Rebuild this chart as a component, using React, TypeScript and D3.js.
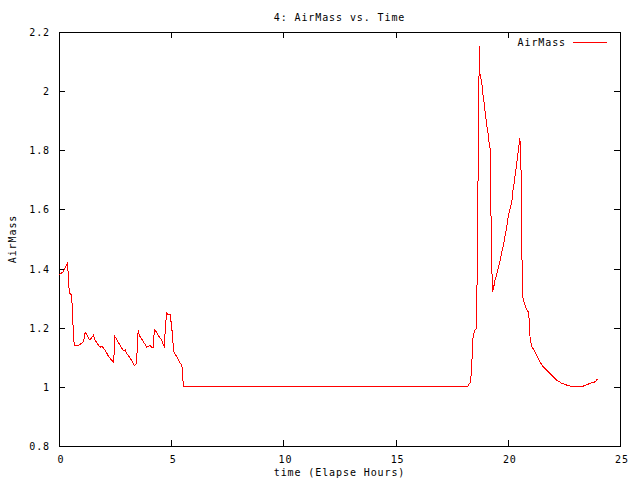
import React from "react";
import * as d3 from "d3";

const times: number[] = [
  0.0, 0.19, 0.34, 0.38, 0.44, 0.47, 0.56, 0.59, 0.64, 0.68, 0.86, 1.01, 1.09, 1.16, 1.19, 1.31, 1.38, 1.53, 1.61, 1.75,
  1.83, 1.9, 2.05, 2.2, 2.27, 2.42, 2.46, 2.49, 2.57, 2.71, 2.87, 2.95, 3.02, 3.17, 3.31, 3.36, 3.46, 3.51, 3.54, 3.61,
  3.76, 3.91, 4.01, 4.05, 4.13, 4.2, 4.25, 4.3, 4.42, 4.57, 4.64, 4.69, 4.76, 4.8, 4.88, 4.95, 5.02, 5.11, 5.25, 5.39,
  5.47, 5.51, 5.54, 18.2, 18.24, 18.32, 18.39, 18.42, 18.46, 18.54, 18.61, 18.64, 18.7, 18.73, 18.76, 18.84, 18.88,
  18.94, 18.98, 19.03, 19.07, 19.13, 19.17, 19.22, 19.23, 19.31, 19.35, 19.43, 19.5, 19.57, 19.65, 19.72, 19.8, 19.87,
  19.94, 20.02, 20.11, 20.18, 20.22, 20.28, 20.32, 20.38, 20.43, 20.47, 20.51, 20.54, 20.6, 20.63, 20.66, 20.72, 20.81,
  20.91, 20.96, 20.99, 21.06, 21.17, 21.28, 21.43, 21.58, 21.81, 22.03, 22.18, 22.4, 22.7, 22.92, 23.21, 23.44, 23.66,
  23.89, 23.99,
];

const airMass: number[] = [
  1.378, 1.39, 1.412, 1.423, 1.339, 1.316, 1.311, 1.271, 1.181, 1.14, 1.14, 1.147, 1.153, 1.181, 1.184, 1.166, 1.158,
  1.174, 1.158, 1.142, 1.134, 1.138, 1.125, 1.104, 1.097, 1.085, 1.113, 1.17, 1.161, 1.142, 1.122, 1.125, 1.113, 1.097,
  1.08, 1.071, 1.08, 1.181, 1.186, 1.17, 1.153, 1.134, 1.138, 1.141, 1.133, 1.133, 1.195, 1.19, 1.175, 1.158, 1.145,
  1.138, 1.22, 1.249, 1.243, 1.243, 1.206, 1.119, 1.102, 1.08, 1.074, 1.046, 1.0, 1.0, 1.006, 1.014, 1.051, 1.136,
  1.175, 1.192, 1.198, 1.44, 1.914, 2.153, 2.06, 2.029, 1.995, 1.964, 1.936, 1.905, 1.88, 1.852, 1.824, 1.801, 1.671,
  1.322, 1.328, 1.361, 1.378, 1.401, 1.423, 1.452, 1.476, 1.508, 1.533, 1.576, 1.604, 1.626, 1.66, 1.688, 1.711, 1.745,
  1.773, 1.801, 1.824, 1.841, 1.711, 1.446, 1.305, 1.288, 1.266, 1.254, 1.226, 1.17, 1.136, 1.125, 1.108, 1.085, 1.068,
  1.051, 1.034, 1.023, 1.012, 1.004, 1.0, 1.0, 1.004, 1.012, 1.017, 1.026,
];

const xTicks: number[] = [0, 5, 10, 15, 20, 25];
const yTicks: number[] = [0.8, 1, 1.2, 1.4, 1.6, 1.8, 2, 2.2];

const title = "4: AirMass vs. Time";
const xLabel = "time (Elapse Hours)";
const yLabel = "AirMass";
const seriesName = "AirMass";

export default function App() {
  const W = 640;
  const H = 480;
  const left = 59;
  const right = 620;
  const top = 32;
  const bottom = 446;
  const tick = 6;

  const x = d3.scaleLinear().domain([0, 25]).range([left, right]);
  const y = d3.scaleLinear().domain([0.8, 2.2]).range([bottom, top]);

  const data = times.map((t, i) => ({ t, v: airMass[i] }));
  const line = d3
    .line<{ t: number; v: number }>()
    .x((d) => x(d.t))
    .y((d) => y(d.v));

  const font = {
    fontFamily: "'DejaVu Sans Mono', monospace",
    fontSize: 10,
    letterSpacing: 0.9,
  } as React.CSSProperties;

  return (
    <svg
      width={W}
      height={H}
      style={{ position: "absolute", left: 0, top: 0, background: "#fff" }}
    >
      <rect x={0} y={0} width={W} height={H} fill="#fff" />
      {/* title */}
      <text x={(left + right) / 2} y={21} textAnchor="middle" style={font}>
        {title}
      </text>
      {/* ticks */}
      <g stroke="#000" strokeWidth={1} shapeRendering="crispEdges">
        {xTicks.map((t) => (
          <g key={"xt" + t}>
            <line x1={Math.round(x(t)) + 0.5} x2={Math.round(x(t)) + 0.5} y1={bottom} y2={bottom - tick} />
            <line x1={Math.round(x(t)) + 0.5} x2={Math.round(x(t)) + 0.5} y1={top} y2={top + tick} />
          </g>
        ))}
        {yTicks.map((v) => (
          <g key={"yt" + v}>
            <line x1={left} x2={left + tick} y1={Math.round(y(v)) + 0.5} y2={Math.round(y(v)) + 0.5} />
            <line x1={right} x2={right - tick} y1={Math.round(y(v)) + 0.5} y2={Math.round(y(v)) + 0.5} />
          </g>
        ))}
        <rect x={left + 0.5} y={top + 0.5} width={right - left} height={bottom - top} fill="none" />
      </g>
      {/* tick labels */}
      {xTicks.map((t) => (
        <text key={"xl" + t} x={x(t) + 2} y={463} textAnchor="middle" style={font}>
          {String(t)}
        </text>
      ))}
      {yTicks.map((v) => (
        <text key={"yl" + v} x={50} y={y(v) + 4} textAnchor="end" style={font}>
          {d3.format("~g")(v)}
        </text>
      ))}
      {/* axis labels */}
      <text x={(left + right) / 2} y={476} textAnchor="middle" style={font}>
        {xLabel}
      </text>
      <text
        transform={`translate(16,${(top + bottom) / 2}) rotate(-90)`}
        textAnchor="middle"
        style={font}
      >
        {yLabel}
      </text>
      {/* legend */}
      <text x={566} y={46} textAnchor="end" style={font}>
        {seriesName}
      </text>
      <line x1={573} x2={607} y1={42.5} y2={42.5} stroke="#ff0000" strokeWidth={1} shapeRendering="crispEdges" />
      {/* data */}
      <path d={line(data) || ""} fill="none" stroke="#ff0000" strokeWidth={1} shapeRendering="crispEdges" />
    </svg>
  );
}
